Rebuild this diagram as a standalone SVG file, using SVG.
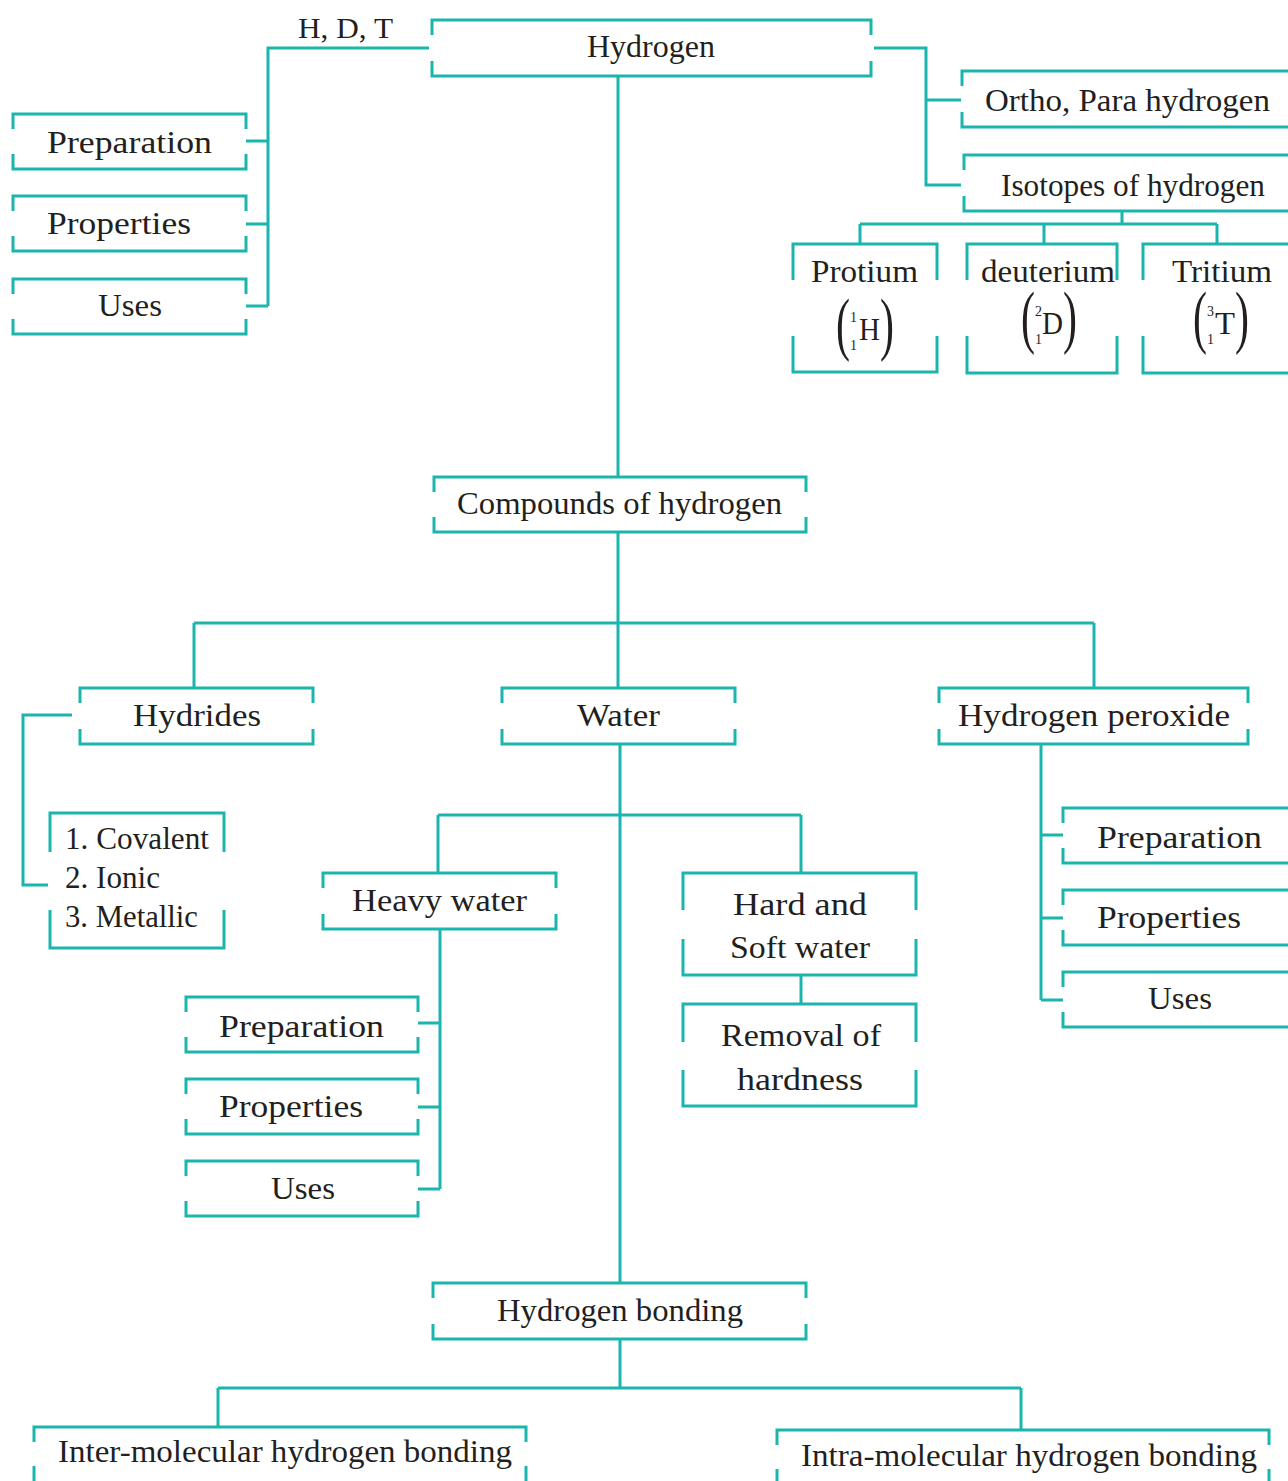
<svg xmlns="http://www.w3.org/2000/svg" width="1288" height="1481" viewBox="0 0 1288 1481">
<style>
.box{fill:none;stroke:#1bb5ad;stroke-width:3}
.conn path{fill:none;stroke:#1bb5ad;stroke-width:3}
text{font-family:"Liberation Serif","Times New Roman",serif;font-size:32px;fill:#231f20}
.sm{font-size:14px}
.par{font-size:70px}
</style>
<rect width="1288" height="1481" fill="#ffffff"/>
<g id="connectors" class="conn">
<path d="M429,48 H268 V306 M246,141 H268 M246,224 H268 M246,306 H268"/>
<path d="M874,48 H926 V185 H961 M926,100 H961"/>
<path d="M1122,211 V224 M860,224 H1217 M860,224 V244 M1044,224 V244 M1217,224 V244"/>
<path d="M618,76 V477"/>
<path d="M618,532 V688 M194,623 H1094 M194,623 V688 M1094,623 V688"/>
<path d="M72,715 H23 V885 H48"/>
<path d="M620,744 V1283 M438,815 H801 M438,815 V873 M801,815 V873"/>
<path d="M440,929 V1189 M418,1023 H440 M418,1107 H440 M418,1189 H440"/>
<path d="M801,975 V1004"/>
<path d="M1041,744 V1000 M1041,835 H1063 M1041,918 H1063 M1041,1000 H1063"/>
<path d="M620,1339 V1388 M218,1388 H1021 M218,1388 V1427 M1021,1388 V1430"/>
</g>
<g id="hdt"><text x="298" y="38" textLength="95" lengthAdjust="spacingAndGlyphs" style="font-size:29px">H, D, T</text></g>
<g id="hydrogen"><path class="box" d="M432,35 V20 H871 V35 M432,61 V76 H871 V61"/><text x="587" y="57" textLength="128" lengthAdjust="spacingAndGlyphs">Hydrogen</text></g>
<g id="ortho"><path class="box" d="M962,86 V71 H1290 M962,112 V127 H1290"/><text x="985" y="111" textLength="285" lengthAdjust="spacingAndGlyphs">Ortho, Para hydrogen</text></g>
<g id="isotopes"><path class="box" d="M964,170 V155 H1290 M964,196 V211 H1290"/><text x="1001" y="196" textLength="264" lengthAdjust="spacingAndGlyphs">Isotopes of hydrogen</text></g>
<g id="prep1"><path class="box" d="M13,129 V114 H246 V129 M13,154 V169 H246 V154"/><text x="47" y="153" textLength="165" lengthAdjust="spacingAndGlyphs">Preparation</text></g>
<g id="prop1"><path class="box" d="M13,211 V196 H246 V211 M13,236 V251 H246 V236"/><text x="47" y="234" textLength="144" lengthAdjust="spacingAndGlyphs">Properties</text></g>
<g id="uses1"><path class="box" d="M13,294 V279 H246 V294 M13,319 V334 H246 V319"/><text x="98" y="316" textLength="64" lengthAdjust="spacingAndGlyphs">Uses</text></g>
<g id="protium"><path class="box" d="M793,280 V244 H937 V280 M793,336 V372 H937 V336"/><text x="811" y="282" textLength="107" lengthAdjust="spacingAndGlyphs">Protium</text>
<text class="par" transform="translate(836,347) scale(0.6,1)">(</text><text class="sm" x="850" y="322">1</text><text class="sm" x="850" y="350">1</text><text x="859" y="340" textLength="21" lengthAdjust="spacingAndGlyphs">H</text><text class="par" transform="translate(880,347) scale(0.6,1)">)</text></g>
<g id="deuterium"><path class="box" d="M967,280 V244 H1117 V280 M967,336 V373 H1117 V336"/><text x="981" y="282" textLength="134" lengthAdjust="spacingAndGlyphs">deuterium</text>
<text class="par" transform="translate(1021,340) scale(0.6,1)">(</text><text class="sm" x="1035" y="316">2</text><text class="sm" x="1035" y="344">1</text><text x="1042" y="334" textLength="21" lengthAdjust="spacingAndGlyphs">D</text><text class="par" transform="translate(1063,340) scale(0.6,1)">)</text></g>
<g id="tritium"><path class="box" d="M1143,280 V244 H1290 M1143,336 V373 H1290"/><text x="1172" y="282" textLength="100" lengthAdjust="spacingAndGlyphs">Tritium</text>
<text class="par" transform="translate(1193,340) scale(0.6,1)">(</text><text class="sm" x="1207" y="316">3</text><text class="sm" x="1207" y="344">1</text><text x="1215" y="334" textLength="20" lengthAdjust="spacingAndGlyphs">T</text><text class="par" transform="translate(1235,340) scale(0.6,1)">)</text></g>
<g id="compounds"><path class="box" d="M434,492 V477 H806 V492 M434,517 V532 H806 V517"/><text x="457" y="514" textLength="325" lengthAdjust="spacingAndGlyphs">Compounds of hydrogen</text></g>
<g id="hydrides"><path class="box" d="M80,703 V688 H313 V703 M80,729 V744 H313 V729"/><text x="133" y="726" textLength="128" lengthAdjust="spacingAndGlyphs">Hydrides</text></g>
<g id="water"><path class="box" d="M502,703 V688 H735 V703 M502,729 V744 H735 V729"/><text x="577" y="726" textLength="83" lengthAdjust="spacingAndGlyphs">Water</text></g>
<g id="peroxide"><path class="box" d="M939,703 V688 H1248 V703 M939,729 V744 H1248 V729"/><text x="958" y="726" textLength="272" lengthAdjust="spacingAndGlyphs">Hydrogen peroxide</text></g>
<g id="hydridetypes"><path class="box" d="M50,852 V813 H224 V852 M50,910 V948 H224 V910"/><text x="65" y="849" textLength="144" lengthAdjust="spacingAndGlyphs">1. Covalent</text><text x="65" y="888" textLength="95" lengthAdjust="spacingAndGlyphs">2. Ionic</text><text x="65" y="927" textLength="133" lengthAdjust="spacingAndGlyphs">3. Metallic</text></g>
<g id="heavywater"><path class="box" d="M323,888 V873 H556 V888 M323,914 V929 H556 V914"/><text x="352" y="911" textLength="175" lengthAdjust="spacingAndGlyphs">Heavy water</text></g>
<g id="hardsoft"><path class="box" d="M683,910 V873 H916 V910 M683,939 V975 H916 V939"/><text x="733" y="915" textLength="134" lengthAdjust="spacingAndGlyphs">Hard and</text><text x="730" y="958" textLength="140" lengthAdjust="spacingAndGlyphs">Soft water</text></g>
<g id="removal"><path class="box" d="M683,1042 V1004 H916 V1042 M683,1070 V1106 H916 V1070"/><text x="721" y="1046" textLength="160" lengthAdjust="spacingAndGlyphs">Removal of</text><text x="737" y="1090" textLength="126" lengthAdjust="spacingAndGlyphs">hardness</text></g>
<g id="prep2"><path class="box" d="M186,1012 V997 H418 V1012 M186,1037 V1052 H418 V1037"/><text x="219" y="1037" textLength="165" lengthAdjust="spacingAndGlyphs">Preparation</text></g>
<g id="prop2"><path class="box" d="M186,1094 V1079 H418 V1094 M186,1119 V1134 H418 V1119"/><text x="219" y="1117" textLength="144" lengthAdjust="spacingAndGlyphs">Properties</text></g>
<g id="uses2"><path class="box" d="M186,1176 V1161 H418 V1176 M186,1201 V1216 H418 V1201"/><text x="271" y="1199" textLength="64" lengthAdjust="spacingAndGlyphs">Uses</text></g>
<g id="prep3"><path class="box" d="M1063,823 V808 H1290 M1063,848 V863 H1290"/><text x="1097" y="848" textLength="165" lengthAdjust="spacingAndGlyphs">Preparation</text></g>
<g id="prop3"><path class="box" d="M1063,905 V890 H1290 M1063,930 V945 H1290"/><text x="1097" y="928" textLength="144" lengthAdjust="spacingAndGlyphs">Properties</text></g>
<g id="uses3"><path class="box" d="M1063,987 V972 H1290 M1063,1012 V1027 H1290"/><text x="1148" y="1009" textLength="64" lengthAdjust="spacingAndGlyphs">Uses</text></g>
<g id="hbonding"><path class="box" d="M433,1298 V1283 H806 V1298 M433,1324 V1339 H806 V1324"/><text x="497" y="1321" textLength="246" lengthAdjust="spacingAndGlyphs">Hydrogen bonding</text></g>
<g id="inter"><path class="box" d="M34,1442 V1427 H526 V1442 M34,1466 V1485 M526,1466 V1485"/><text x="58" y="1462" textLength="454" lengthAdjust="spacingAndGlyphs">Inter-molecular hydrogen bonding</text></g>
<g id="intra"><path class="box" d="M777,1445 V1430 H1269 V1445 M777,1469 V1485 M1269,1469 V1485"/><text x="801" y="1466" textLength="456" lengthAdjust="spacingAndGlyphs">Intra-molecular hydrogen bonding</text></g>
</svg>
